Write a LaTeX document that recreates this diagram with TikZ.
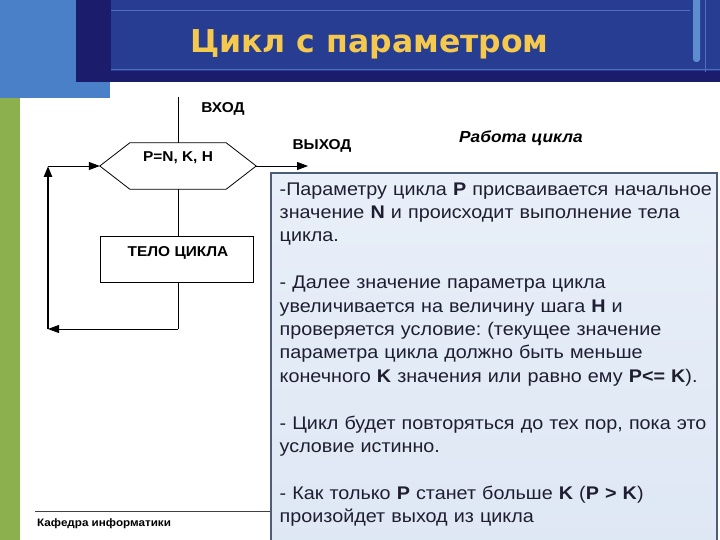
\documentclass[tikz,border=0pt]{standalone}
\usepackage{fontspec}
\setmainfont{Liberation Sans}[FakeStretch=1.08]
\newfontfamily\titlefont{DejaVu Sans}
\usetikzlibrary{arrows.meta}
\frenchspacing
\definecolor{skyblue}{HTML}{4A80C8}
\definecolor{navy}{HTML}{1C1C6C}
\definecolor{panel}{HTML}{263D92}
\definecolor{panelline}{HTML}{4E6CC0}
\definecolor{greenbar}{HTML}{8CB04E}
\definecolor{titlecol}{HTML}{F4C94E}
\definecolor{boxborder}{HTML}{4F5C78}
\definecolor{boxtop}{HTML}{E8EFF9}
\definecolor{boxbot}{HTML}{DEE7F4}
\definecolor{txt}{HTML}{1E1E30}
\begin{document}
\begin{tikzpicture}[x=1pt,y=-1pt,
  flowlbl/.style={font=\bfseries\fontsize{14.3}{16}\selectfont, inner sep=0pt, anchor=base},
  flowline/.style={draw=black, line width=0.8pt},
  arr/.style={flowline, -{Triangle[length=11pt,width=8pt]}},
  boxframe/.style={draw=boxborder, line width=1.6pt, top color=boxtop, bottom color=boxbot, anchor=north west, inner sep=0pt},
]
\useasboundingbox (0,0) rectangle (720,540);
\fill[white] (0,0) rectangle (720,540);
% header decoration
\fill[skyblue] (0,0) rectangle (110,98);
\fill[greenbar] (0,98) rectangle (20,540);
\fill[navy] (76,0) rectangle (720,82);
\fill[panel] (111,0) rectangle (720,71);
\draw[panelline, line width=1pt] (111,10.5) -- (690,10.5);
\draw[panelline, line width=1pt] (111,70) -- (720,70);
\fill[skyblue!90!white, rounded corners=3pt] (693,-5) rectangle (700,62);
\draw[panelline, line width=0.8pt] (705,0) -- (705,72);
\node[anchor=base west, inner sep=0pt, text=titlecol, font=\titlefont\bfseries\fontsize{31.5}{36}\selectfont] (title) at (190,53) {Цикл с параметром};

% flowchart
\coordinate (entry) at (178,97);
\node[minimum width=156pt, minimum height=46pt, inner sep=0pt] (hex) at (178,166) {};
\draw[flowline] (hex.west) -- ([xshift=30pt]hex.north west) -- ([xshift=-30pt]hex.north east)
  -- (hex.east) -- ([xshift=-30pt]hex.south east) -- ([xshift=30pt]hex.south west) -- cycle;
\node[flowlbl] (hexlbl) at (178,162) {P=N, K, H};
\node[draw=black, line width=0.8pt, minimum width=153pt, minimum height=46pt, inner sep=0pt] (body) at (177,259) {};
\node[flowlbl] (bodylbl) at (178,256) {ТЕЛО ЦИКЛА};
\node[flowlbl] (inlbl) at (223,113) {ВХОД};
\node[flowlbl] (outlbl) at (322,150) {ВЫХОД};
\coordinate (exit) at (308,166);
\coordinate (c1) at (178,329);
\coordinate (c2) at (48,329);
\coordinate (c3) at (48,166);
\draw[flowline] (entry) -- (entry |- hex.north);
\draw[arr] (hex.east) -- (exit);
\draw[flowline] (hex.south -| entry) -- (body.north -| entry);
\draw[flowline] (body.south -| entry) -- (c1);
\draw[arr] (c1) -- (c2);
\draw[arr, line width=2.4pt] (c2) -- (c3);
\draw[arr] (c3) -- (hex.west);

% footer
\coordinate (fl) at (35,511);
\coordinate (fr) at (272,511);
\draw[black!75, line width=0.8pt] (fl) -- (fr);
\node[anchor=base west, inner sep=0pt, font=\bfseries\fontsize{10.8}{12}\selectfont] (dept) at (37,526) {Кафедра информатики};

% text box
\node[font=\bfseries\itshape\fontsize{16}{18}\selectfont, anchor=base west, inner sep=0pt] (work) at (459,143) {Работа цикла};
\node[boxframe, minimum width=446pt, minimum height=380pt] (box) at (270,172) {};
\node[anchor=north west, inner sep=0pt, text=txt, text width=445pt, align=left,
  font=\fontsize{18.3}{23.4}\selectfont] (boxtxt) at (279.5,178.6) {\strut-Параметру цикла \textbf{P} присваивается начальное\\
значение \textbf{N} и происходит выполнение тела\\
цикла.\\[23.4pt]
- Далее значение параметра цикла\\
увеличивается на величину шага \textbf{H} и\\
проверяется условие: (текущее значение\\
параметра цикла должно быть меньше\\
конечного \textbf{K} значения или равно ему \textbf{P<= K}).\\[23.4pt]
- Цикл будет повторяться до тех пор, пока это\\
условие истинно.\\[23.4pt]
- Как только \textbf{P} станет больше \textbf{K} (\textbf{P > K})\\
произойдет выход из цикла};
\end{tikzpicture}
\end{document}
